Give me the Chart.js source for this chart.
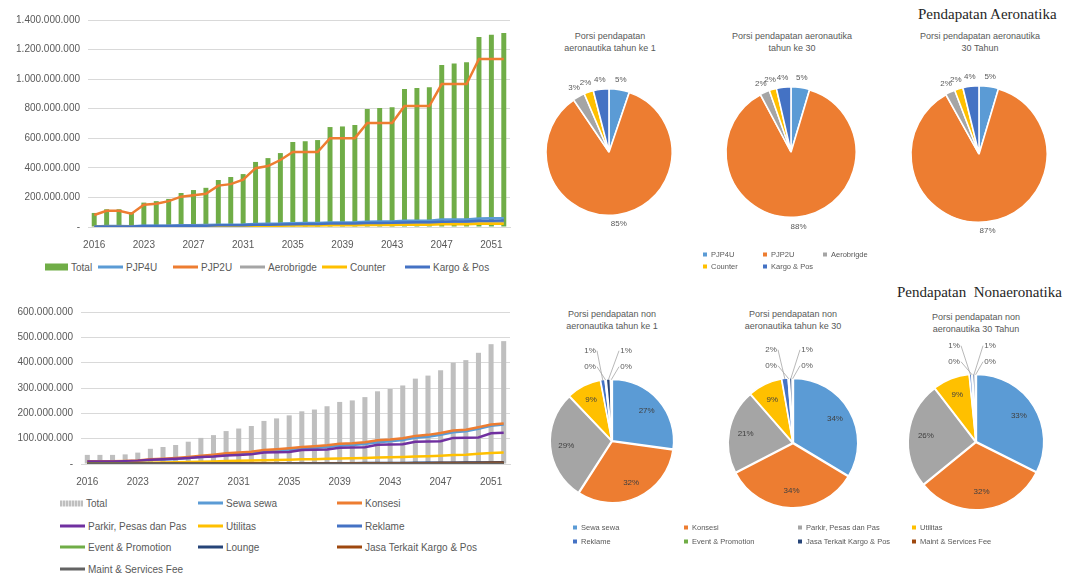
<!DOCTYPE html>
<html>
<head>
<meta charset="utf-8">
<script src="https://cdn.jsdelivr.net/npm/chart.js@4.4.1/dist/chart.umd.min.js"></script>
<style>
  body { margin: 0; width: 1072px; height: 576px; position: relative; overflow: hidden; background: #fff;
         font-family: "Liberation Sans", Arial, sans-serif; color: #595959; }
  .box { position: absolute; }
  .t { position: absolute; transform: translateX(-50%); text-align: center; font-size: 9px; line-height: 12px; white-space: nowrap; }
  .big { position: absolute; font-family: "Liberation Serif", "Times New Roman", serif; font-size: 15px; color: #262626; white-space: pre; }
  .lg { position: absolute; display: flex; align-items: center; font-size: 10px; white-space: nowrap; transform: translateY(-50%); }
  .lg span { display: inline-block; margin-right: 3px; }
  .pl { position: absolute; display: flex; align-items: center; font-size: 7.5px; white-space: nowrap; transform: translateY(-50%); }
  .pl span { display: inline-block; width: 4px; height: 4px; margin-right: 4px; }
</style>
</head>
<body>
<div class="box" style="left:0;top:0"><canvas id="aeroTrend" width="515" height="250"></canvas></div>
<div class="box" style="left:0;top:295px"><canvas id="nonAeroTrend" width="515" height="192"></canvas></div>

<div class="big" style="left:918px;top:6px">Pendapatan Aeronatika</div>
<div class="big" style="left:897px;top:284px">Pendapatan  Nonaeronatika</div>
<div class="t" style="left:610px;top:30px">Porsi pendapatan<br>aeronautika tahun ke 1</div>
<div class="t" style="left:792px;top:30px">Porsi pendapatan aeronautika<br>tahun ke 30</div>
<div class="t" style="left:980px;top:30px">Porsi pendapatan aeronautika<br>30 Tahun</div>
<div class="t" style="left:612px;top:308px">Porsi pendapatan non<br>aeronautika tahun ke 1</div>
<div class="t" style="left:793px;top:308px">Porsi pendapatan non<br>aeronautika tahun ke 30</div>
<div class="t" style="left:976px;top:311px">Porsi pendapatan non<br>aeronautika 30 Tahun</div>

<script>
// years on the category axis (base year, then 2020-2052)
const years = ["2016", "2020", "2021", "2022", "2023", "2024", "2025", "2026", "2027", "2028",
  "2029", "2030", "2031", "2032", "2033", "2034", "2035", "2036", "2037", "2038", "2039",
  "2040", "2041", "2042", "2043", "2044", "2045", "2046", "2047", "2048", "2049", "2050",
  "2051", "2052"];

// aeronautical revenue, in millions of rupiah
const aeroTotal = [95, 120, 120, 100, 165, 175, 190, 230, 250, 265, 318, 338, 358, 440, 466, 500,
  575, 580, 588, 676, 680, 690, 798, 805, 810, 933, 940, 945, 1095, 1105, 1115, 1285, 1300, 1312];
const pjp4u = [4, 6, 6, 5, 8, 9, 9, 11, 12, 13, 15, 16, 17, 20, 22, 23, 26, 27, 27, 31, 31, 32,
  36, 37, 37, 42, 43, 43, 50, 51, 51, 58, 59, 60];
const pjp2u = [81, 110, 110, 90, 150, 158, 175, 205, 215, 225, 280, 290, 320, 398, 412, 453,
  507, 507, 507, 601, 601, 601, 703, 703, 703, 818, 818, 818, 967, 967, 967, 1136, 1136, 1136];
const aerobrigde = [3, 3, 3, 3, 5, 5, 6, 7, 7, 8, 9, 10, 10, 12, 13, 14, 16, 16, 16, 18, 18, 19,
  21, 21, 22, 24, 24, 25, 27, 28, 28, 30, 30, 31];
const counter = [2, 2, 2, 2, 3, 3, 4, 4, 5, 5, 6, 6, 7, 8, 8, 9, 10, 10, 10, 12, 12, 12, 14, 14,
  14, 16, 16, 16, 19, 19, 19, 22, 22, 22];
const kargoPos = [3, 4, 4, 4, 6, 6, 7, 8, 9, 9, 11, 12, 12, 15, 16, 17, 19, 20, 20, 23, 23, 24,
  27, 27, 28, 31, 32, 32, 36, 37, 37, 42, 43, 44];

// non-aeronautical revenue, in millions of rupiah
const nonAeroTotal = [36, 36, 36, 38, 45, 60, 67, 75, 88, 103, 114, 130, 140, 150, 170, 180, 192,
  208, 215, 228, 245, 251, 264, 287, 296, 310, 337, 349, 370, 400, 410, 439, 473, 485];
const sewa = [10, 10, 10, 10, 12, 16, 18, 20, 24, 28, 31, 36, 39, 42, 48, 51, 55, 60, 63, 67, 72,
  75, 79, 86, 90, 95, 104, 108, 115, 125, 129, 139, 151, 156];
const konsesi = [11, 11, 11, 12, 14, 19, 21, 24, 28, 33, 37, 42, 45, 48, 55, 58, 62, 67, 70, 74,
  80, 82, 86, 94, 97, 102, 111, 115, 122, 132, 135, 145, 156, 160];
const parkir = [10, 10, 10, 11, 13, 17, 19, 21, 24, 28, 30, 34, 36, 38, 45, 46, 47, 55, 56, 57,
  64, 65, 66, 76, 77, 78, 88, 89, 90, 103, 104, 105, 121, 123];
const utilitas = [3, 3, 3, 3, 4, 5, 6, 7, 8, 9, 10, 12, 13, 14, 15, 16, 17, 19, 19, 21, 22, 23,
  24, 26, 27, 28, 30, 31, 33, 36, 37, 40, 43, 45];
const reklame = [0.4, 0.4, 0.4, 0.4, 0.5, 0.6, 0.7, 0.8, 0.9, 1.0, 1.1, 1.3, 1.4, 1.5, 1.7, 1.8,
  1.9, 2.1, 2.2, 2.3, 2.4, 2.5, 2.6, 2.9, 3.0, 3.1, 3.4, 3.5, 3.7, 4.0, 4.1, 4.4, 4.7, 4.9];
const eventPromo = [0.1, 0.1, 0.1, 0.1, 0.2, 0.2, 0.2, 0.3, 0.3, 0.3, 0.4, 0.4, 0.5, 0.5, 0.6,
  0.6, 0.7, 0.7, 0.8, 0.8, 0.9, 0.9, 1.0, 1.1, 1.2, 1.3, 1.5, 1.7, 2.0, 2.4, 2.8, 3.4, 4.2, 5.0];
const lounge = [0.5, 0.5, 0.5, 0.5, 0.6, 0.8, 0.9, 1.0, 1.2, 1.4, 1.5, 1.7, 1.9, 2.0, 2.3, 2.4,
  2.6, 2.8, 2.9, 3.1, 3.3, 3.4, 3.6, 3.9, 4.0, 4.2, 4.6, 4.7, 5.0, 5.4, 5.5, 5.9, 6.4, 6.5];
const jasaKargo = [0.4, 0.4, 0.4, 0.4, 0.5, 0.6, 0.7, 0.8, 0.9, 1.0, 1.1, 1.3, 1.4, 1.5, 1.7,
  1.8, 1.9, 2.0, 2.1, 2.3, 2.4, 2.5, 2.6, 2.8, 2.9, 3.1, 3.3, 3.4, 3.6, 3.9, 4.0, 4.3, 4.6, 4.8];
const maintFee = [0.1, 0.1, 0.1, 0.1, 0.1, 0.2, 0.2, 0.2, 0.2, 0.3, 0.3, 0.3, 0.4, 0.4, 0.4,
  0.5, 0.5, 0.5, 0.6, 0.6, 0.6, 0.7, 0.7, 0.8, 0.8, 0.8, 0.9, 0.9, 1.0, 1.1, 1.1, 1.2, 1.3, 1.3];

// y-axis ticks (millions)
const aeroTicks = [0, 200, 400, 600, 800, 1000, 1200, 1400];
const nonAeroTicks = [0, 100, 200, 300, 400, 500, 600];

// pie shares, percent
const aeroNames = ["PJP4U", "PJP2U", "Aerobrigde", "Counter", "Kargo & Pos"];
const aeroShareYear1 = [5.2, 85.3, 3.1, 2.4, 4.0];
const aeroShareYear30 = [4.6, 87.6, 2.4, 1.8, 3.6];
const aeroShare30Years = [4.6, 87.3, 2.3, 2.0, 3.8];

const nonAeroNames = ["Sewa sewa", "Konsesi", "Parkir, Pesas dan Pas", "Utilitas", "Reklame",
  "Event & Promotion", "Jasa Terkait Kargo & Pos", "Maint & Services Fee"];
const nonAeroShareYear1 = [27.2, 31.9, 28.8, 9.1, 1.2, 0.3, 1.1, 0.4];
const nonAeroShareYear30 = [33.6, 33.8, 21.2, 8.6, 1.6, 0.3, 0.7, 0.2];
const nonAeroShare30Years = [32.6, 31.9, 25.6, 8.9, 0.6, 0.2, 0.6, 0.2];

const aeroColors = ["#5B9BD5", "#ED7D31", "#A5A5A5", "#FFC000", "#4472C4"];
const nonAeroPieColors = ["#5B9BD5", "#ED7D31", "#A5A5A5", "#FFC000", "#4472C4", "#70AD47", "#264478", "#9E480E"];

const axisFont = { family: "Liberation Sans", size: 10 };

function rupiah(v) {
  if (v === 0) return "-";
  return String(Math.round(v * 1e6)).replace(/\B(?=(\d{3})+(?!\d))/g, ".");
}

function trendChart(id, bar, lines, ticks, axisWidth, padTop) {
  const datasets = [{
    type: "bar", label: bar.label, data: bar.data, backgroundColor: bar.color,
    barPercentage: 0.4, categoryPercentage: 1, order: 1
  }];
  lines.forEach((l, i) => datasets.push({
    type: "line", label: l.label, data: l.data, borderColor: l.color, backgroundColor: l.color,
    borderWidth: 2.5, pointRadius: 0, tension: 0, order: -i
  }));

  new Chart(document.getElementById(id), {
    type: "bar",
    data: { labels: years, datasets },
    options: {
      responsive: false,
      animation: false,
      layout: { padding: { top: padTop, right: 5, left: 0, bottom: 0 } },
      plugins: { legend: { display: false }, tooltip: { enabled: false } },
      scales: {
        x: {
          grid: { display: false },
          border: { color: "#D9D9D9" },
          ticks: {
            autoSkip: false, maxRotation: 0, padding: 4, color: "#595959", font: axisFont,
            callback(val, i) { return i % 4 === 0 ? this.getLabelForValue(val) : null; }
          },
          afterFit(s) { s.height = 23; }
        },
        y: {
          min: ticks[0], max: ticks[ticks.length - 1],
          grid: { color: "#D9D9D9", drawTicks: false },
          border: { display: false },
          afterBuildTicks(s) { s.ticks = ticks.map(v => ({ value: v })); },
          ticks: { padding: 8, color: "#595959", font: axisFont, callback: v => rupiah(v) },
          afterFit(s) { s.width = axisWidth; }
        }
      }
    }
  });
}

trendChart("aeroTrend",
  { label: "Total", data: aeroTotal, color: "#70AD47" },
  [
    { label: aeroNames[0], data: pjp4u, color: "#5B9BD5" },
    { label: aeroNames[1], data: pjp2u, color: "#ED7D31" },
    { label: aeroNames[2], data: aerobrigde, color: "#A5A5A5" },
    { label: aeroNames[3], data: counter, color: "#FFC000" },
    { label: aeroNames[4], data: kargoPos, color: "#4472C4" }
  ], aeroTicks, 88, 20);

const nonAeroLines = [
  { label: "Sewa sewa", data: sewa, color: "#5B9BD5" },
  { label: "Konsesi", data: konsesi, color: "#ED7D31" },
  { label: "Parkir, Pesas dan Pas", data: parkir, color: "#7030A0" },
  { label: "Utilitas", data: utilitas, color: "#FFC000" },
  { label: "Reklame", data: reklame, color: "#4472C4" },
  { label: "Event & Promotion", data: eventPromo, color: "#70AD47" },
  { label: "Lounge", data: lounge, color: "#264478" },
  { label: "Jasa Terkait Kargo & Pos", data: jasaKargo, color: "#9E480E" },
  { label: "Maint & Services Fee", data: maintFee, color: "#636363" }
];
trendChart("nonAeroTrend", { label: "Total", data: nonAeroTotal, color: "#BFBFBF" },
  nonAeroLines, nonAeroTicks, 81, 17);

// percentage labels: outside the rim, or inside with leader lines for the thin slices
const pieLabels = {
  id: "pieLabels",
  afterDatasetsDraw(chart, args, opts) {
    const ctx = chart.ctx;
    const arcs = chart.getDatasetMeta(0).data;
    const values = chart.data.datasets[0].data;
    ctx.save();
    ctx.font = '8px "Liberation Sans"';
    ctx.textAlign = "center";
    ctx.textBaseline = "middle";
    const small = [];
    arcs.forEach((arc, i) => {
      const p = arc.getProps(["x", "y", "startAngle", "endAngle", "outerRadius"], true);
      const mid = (p.startAngle + p.endAngle) / 2;
      const text = Math.round(values[i]) + "%";
      if (opts.mode === "outside") {
        const d = p.outerRadius + 10;
        ctx.fillStyle = "#595959";
        ctx.fillText(text, p.x + Math.cos(mid) * d, p.y + Math.sin(mid) * d);
      } else if (values[i] >= 3) {
        const d = p.outerRadius * 0.75;
        ctx.fillStyle = "#404040";
        ctx.fillText(text, p.x + Math.cos(mid) * d, p.y + Math.sin(mid) * d);
      } else {
        small.push({ ...p, mid, text });
      }
    });
    const half = Math.ceil(small.length / 2);
    small.forEach((s, k) => {
      const left = k < half;
      const row = left ? k : k - half;
      const lx = s.x + (left ? -22 : 14);
      const ly = s.y - s.outerRadius - 29 + row * 16;
      ctx.strokeStyle = "#A6A6A6";
      ctx.lineWidth = 0.8;
      ctx.beginPath();
      ctx.moveTo(lx + (left ? 7 : -7), ly);
      ctx.lineTo(s.x + Math.cos(s.mid) * s.outerRadius, s.y + Math.sin(s.mid) * s.outerRadius);
      ctx.stroke();
      ctx.fillStyle = "#595959";
      ctx.fillText(s.text, lx, ly);
    });
    ctx.restore();
  }
};

function pie(cx, cy, r, names, values, colors, mode, offset) {
  const W = 230, H = 250;
  const box = document.createElement("div");
  box.className = "box";
  box.style.left = (cx - W / 2) + "px";
  box.style.top = (cy - H / 2) + "px";
  const canvas = document.createElement("canvas");
  canvas.width = W;
  canvas.height = H;
  box.appendChild(canvas);
  document.body.appendChild(box);
  const padX = W / 2 - r - offset, padY = H / 2 - r - offset;
  new Chart(canvas, {
    type: "pie",
    data: { labels: names, datasets: [{ data: values, backgroundColor: colors, borderColor: "#fff", borderWidth: 1.5, offset }] },
    options: {
      responsive: false,
      animation: false,
      layout: { padding: { left: padX, right: padX, top: padY, bottom: padY } },
      plugins: { legend: { display: false }, tooltip: { enabled: false }, pieLabels: { mode } }
    },
    plugins: [pieLabels]
  });
}

pie(609, 152, 63, aeroNames, aeroShareYear1, aeroColors, "outside", 1);
pie(791, 152, 65, aeroNames, aeroShareYear30, aeroColors, "outside", 1);
pie(979, 154, 68, aeroNames, aeroShare30Years, aeroColors, "outside", 1);
pie(612, 441, 61, nonAeroNames, nonAeroShareYear1, nonAeroPieColors, "inside", 2);
pie(793, 443, 64, nonAeroNames, nonAeroShareYear30, nonAeroPieColors, "inside", 2);
pie(976, 442, 67, nonAeroNames, nonAeroShare30Years, nonAeroPieColors, "inside", 2);

// legends
function legendItem(cls, x, y, text, swatchCss) {
  const el = document.createElement("div");
  el.className = cls;
  el.style.left = x + "px";
  el.style.top = y + "px";
  const sw = document.createElement("span");
  sw.style.cssText = swatchCss;
  el.appendChild(sw);
  el.appendChild(document.createTextNode(text));
  document.body.appendChild(el);
}
const lineSwatch = c => `width:25px;height:2.5px;background:${c}`;

legendItem("lg", 45, 267, "Total", "width:23px;height:7px;background:#70AD47");
const aeroLegendX = [98, 173, 240, 322, 405];
aeroNames.forEach((n, i) => legendItem("lg", aeroLegendX[i], 267, n, lineSwatch(aeroColors[i])));

legendItem("lg", 60, 503, "Total", "width:23px;height:6px;background:repeating-linear-gradient(90deg,#BFBFBF 0 2px,#E3E3E3 2px 3px)");
const bottomSlots = [[198, 503], [337, 503], [60, 526], [198, 526], [337, 526], [60, 547], [198, 547], [337, 547], [60, 569]];
nonAeroLines.forEach((l, i) => legendItem("lg", bottomSlots[i][0], bottomSlots[i][1], l.label, lineSwatch(l.color)));

const aeroPieSlots = [[703, 254], [763, 254], [823, 254], [703, 266], [763, 266]];
aeroNames.forEach((n, i) => legendItem("pl", aeroPieSlots[i][0], aeroPieSlots[i][1], n, `background:${aeroColors[i]}`));

const nonAeroPieCols = [573, 684, 798, 912];
nonAeroNames.forEach((n, i) => legendItem("pl", nonAeroPieCols[i % 4], i < 4 ? 527 : 541, n, `background:${nonAeroPieColors[i]}`));
</script>
</body>
</html>
